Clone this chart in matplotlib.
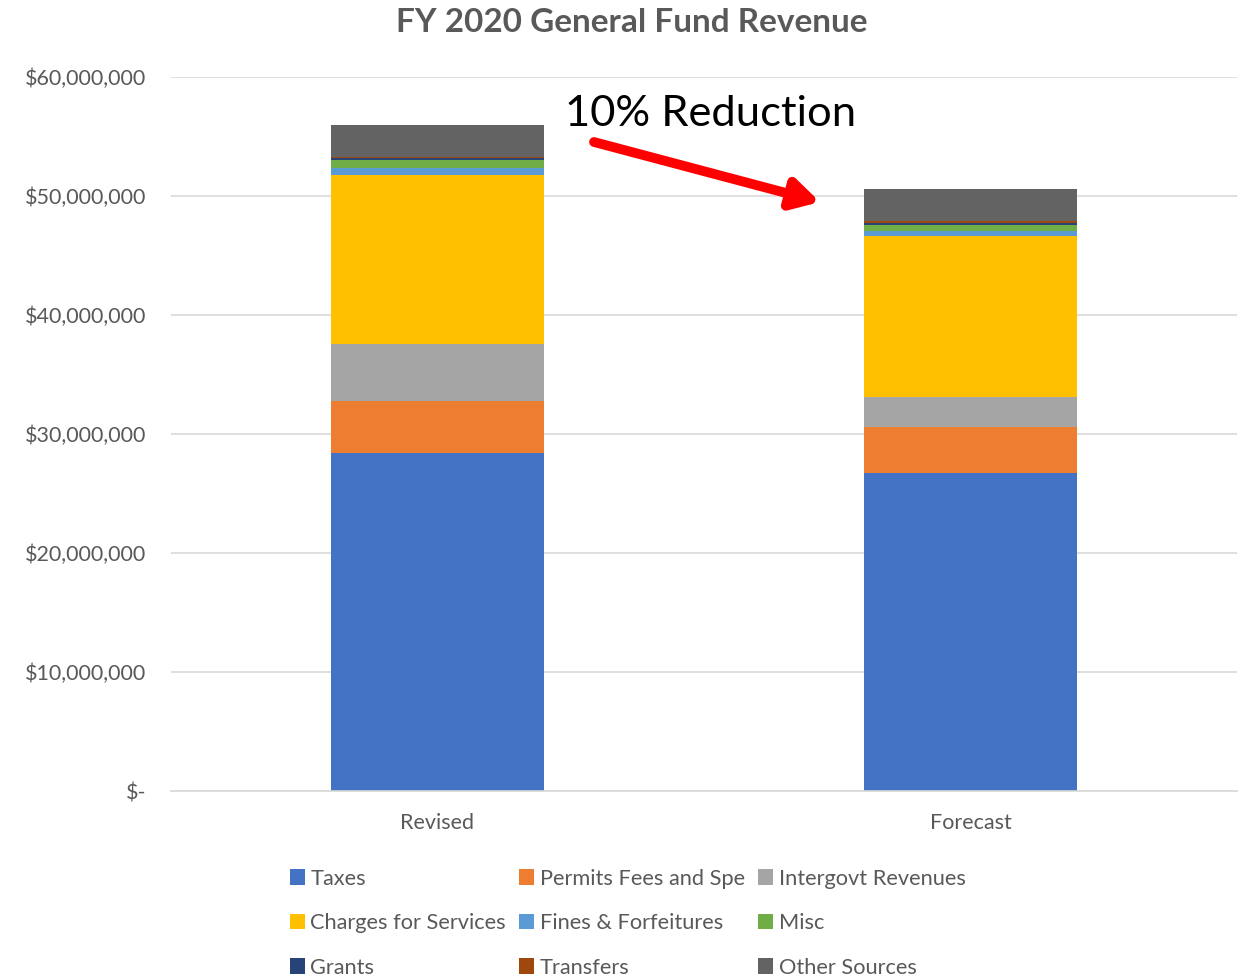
import matplotlib.pyplot as plt
import numpy as np

plt.rcParams['font.family'] = ['Lato', 'DejaVu Sans']

# values in dollars
bars = ["Revised", "Forecast"]
series = ["Taxes", "Permits Fees and Spe", "Intergovt Revenues",
          "Charges for Services", "Fines & Forfeitures", "Misc",
          "Grants", "Transfers", "Other Sources"]
taxes = [28_400_000, 26_700_000]
permits = [4_400_000, 3_900_000]
intergovt = [4_800_000, 2_500_000]
charges = [14_200_000, 13_500_000]
fines = [550_000, 460_000]
misc = [650_000, 500_000]
grants = [200_000, 200_000]
transfers = [100_000, 100_000]
other = [2_700_000, 2_700_000]
colors = ["#4472C4", "#ED7D31", "#A5A5A5", "#FFC000", "#5B9BD5",
          "#70AD47", "#264478", "#9E480E", "#636363"]

data = [taxes, permits, intergovt, charges, fines, misc, grants, transfers, other]

fig = plt.figure(figsize=(12.4, 9.76), dpi=100)
ax = fig.add_axes([171 / 1240, 1 - 791 / 976, 1066 / 1240, 714 / 976])

x = np.arange(len(bars))
bottom = np.zeros(len(bars))
handles = []
for name, vals, c in zip(series, data, colors):
    h = ax.bar(x, vals, width=0.4, bottom=bottom, color=c, label=name)
    handles.append(h)
    bottom += np.array(vals)

ax.set_xlim(-0.5, 1.5)
ax.set_ylim(0, 60_000_000)
ticks = np.arange(0, 60_000_001, 10_000_000)
ax.set_yticks(ticks)
ax.set_yticklabels(["$-"] + [f"${t:,.0f}" for t in ticks[1:]])
ax.set_xticks(x)
ax.set_xticklabels(bars)
ax.tick_params(axis="both", length=0, labelsize=15.5, colors="#595959")
ax.tick_params(axis="y", pad=18)
ax.tick_params(axis="x", pad=16)
ax.grid(axis="y", color="#D9D9D9", linewidth=1.2)
ax.set_axisbelow(True)
for s in ["top", "right", "left"]:
    ax.spines[s].set_visible(False)
ax.spines["bottom"].set_color("#D9D9D9")
ax.spines["bottom"].set_linewidth(1.2)

fig.text(632 / 1240, 1 - 22 / 976, "FY 2020 General Fund Revenue", ha="center", va="center",
         fontsize=24, fontweight="bold", color="#595959")

# annotation
fig.text(565 / 1240, 1 - 114 / 976, "10% Reduction", ha="left", va="center",
         fontsize=31.3, color="black")
ax.annotate("", xy=(820 / 1240, 1 - 202 / 976), xytext=(594 / 1240, 1 - 142 / 976),
            xycoords="figure fraction", textcoords="figure fraction",
            arrowprops=dict(arrowstyle="-|>,head_length=1.6,head_width=0.9",
                            color="#FF0000", lw=7, shrinkA=0, shrinkB=0))

# legend, 3 columns filled row by row
order = [0, 3, 6, 1, 4, 7, 2, 5, 8]
leg = fig.legend([handles[i] for i in order], [series[i] for i in order],
                 loc="upper left", bbox_to_anchor=(281 / 1240, 1 - 860 / 976),
                 ncol=3, frameon=False, fontsize=15.7, handlelength=0.7,
                 handleheight=0.7, handletextpad=0.25, columnspacing=0.6,
                 labelspacing=1.12, borderaxespad=0)
for t in leg.get_texts():
    t.set_color("#595959")

fig.savefig("out.png", dpi=100)
